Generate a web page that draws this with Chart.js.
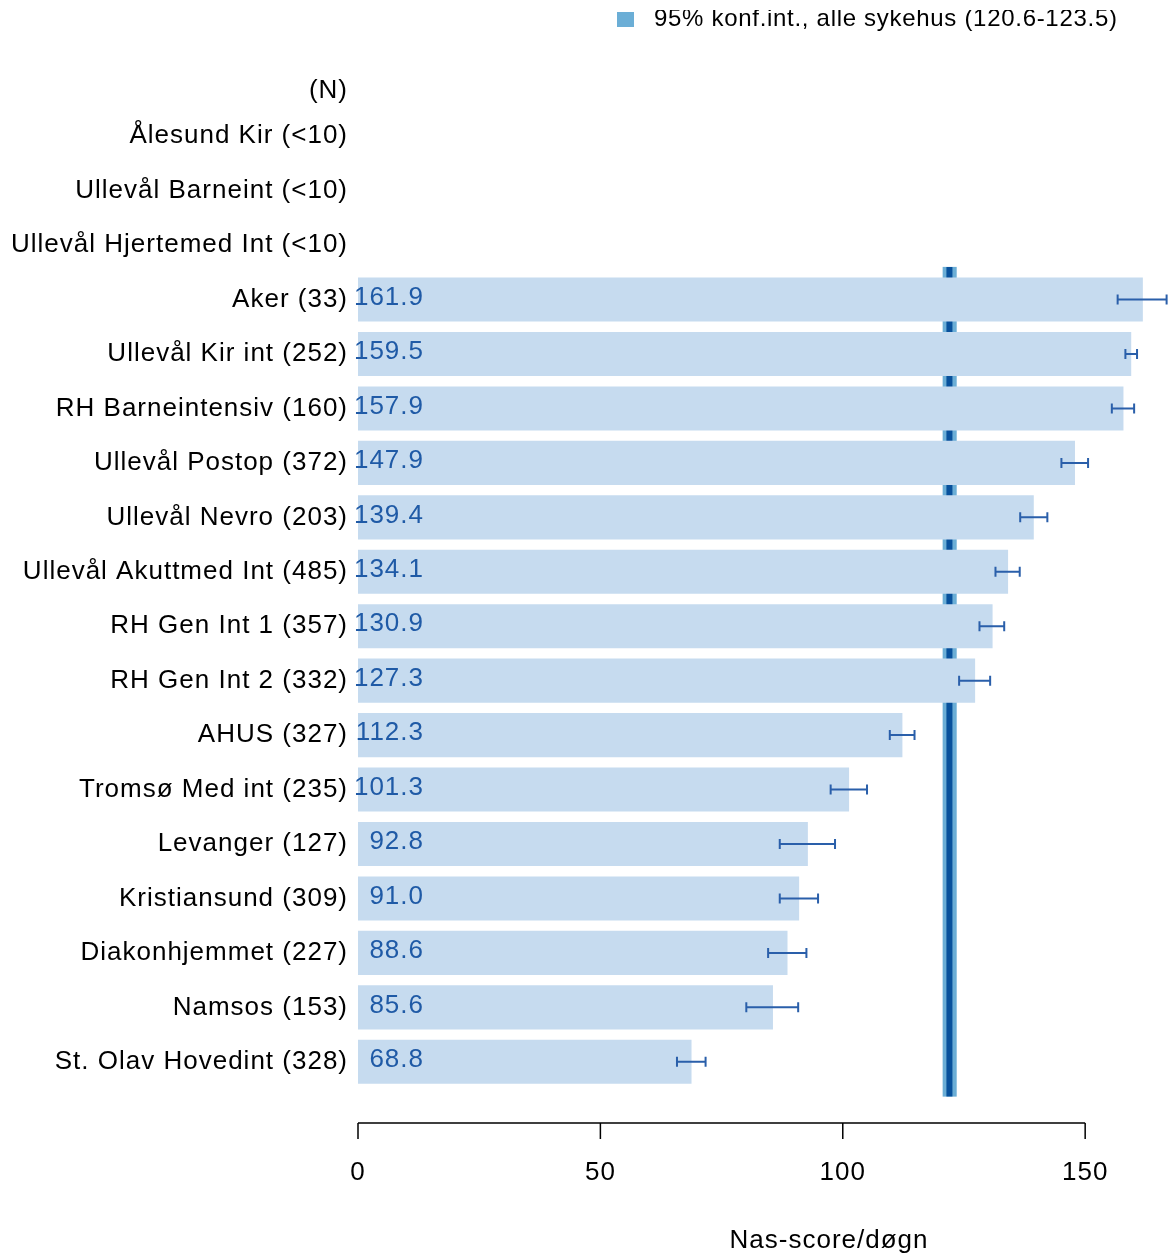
<!DOCTYPE html>
<html>
<head>
<meta charset="utf-8">
<script src="https://cdn.jsdelivr.net/npm/chart.js@4/dist/chart.umd.min.js"></script>
<style>
  html, body { margin: 0; padding: 0; background: #ffffff; }
  #wrap { width: 1173px; height: 1258px; }
</style>
</head>
<body>
<div id="wrap"><canvas id="nasChart" width="1173" height="1258"></canvas></div>
<script>
// hospital labels, top to bottom
var sykehus = ["Ålesund Kir (<10)", "Ullevål Barneint (<10)", "Ullevål Hjertemed Int (<10)",
  "Aker (33)", "Ullevål Kir int (252)", "RH Barneintensiv (160)", "Ullevål Postop (372)",
  "Ullevål Nevro (203)", "Ullevål Akuttmed Int (485)", "RH Gen Int 1 (357)", "RH Gen Int 2 (332)",
  "AHUS (327)", "Tromsø Med int (235)", "Levanger (127)", "Kristiansund (309)",
  "Diakonhjemmet (227)", "Namsos (153)", "St. Olav Hovedint (328)"];
var nasScore = [null, null, null, 161.9, 159.5, 157.9, 147.9, 139.4, 134.1, 130.9, 127.3,
  112.3, 101.3, 92.8, 91.0, 88.6, 85.6, 68.8];
var kiNedre = [null, null, null, 156.7, 158.3, 155.5, 145.1, 136.6, 131.5, 128.2, 124.0,
  109.7, 97.5, 87.0, 87.0, 84.6, 80.1, 65.8];
var kiOvre = [null, null, null, 166.8, 160.7, 160.1, 150.6, 142.2, 136.5, 133.3, 130.4,
  114.8, 105.0, 98.4, 94.9, 92.5, 90.8, 71.7];
var xTicks = [0, 50, 100, 150];

// national 95% CI and average
var alleNedre = 120.6;
var alleOvre = 123.5;
var alleSnitt = 122.0;
var legendTekst = "95% konf.int., alle sykehus (120.6-123.5)";
var xTittel = "Nas-score/døgn";
var nHeader = "(N)";

var fontFam = "'Liberation Sans', Arial, Helvetica, sans-serif";

// band + average line behind bars
var bandPlugin = {
  id: "band",
  beforeDraw: function (chart) { chart.ctx.letterSpacing = "1px"; },
  beforeDatasetsDraw: function (chart) {
    var ctx = chart.ctx, x = chart.scales.x, y = chart.scales.y;
    var top = y.getPixelForValue(2.4), bot = y.getPixelForValue(17.64);
    ctx.save();
    ctx.fillStyle = "#6BAED6";
    ctx.fillRect(x.getPixelForValue(alleNedre), top, x.getPixelForValue(alleOvre) - x.getPixelForValue(alleNedre), bot - top);
    ctx.strokeStyle = "#08519C";
    ctx.lineWidth = 6;
    ctx.beginPath();
    ctx.moveTo(x.getPixelForValue(alleSnitt), top);
    ctx.lineTo(x.getPixelForValue(alleSnitt), bot);
    ctx.stroke();
    ctx.restore();
  }
};

// error bars, value labels, axis, legend
var extrasPlugin = {
  id: "extras",
  afterDatasetsDraw: function (chart) {
    var ctx = chart.ctx, x = chart.scales.x, y = chart.scales.y, area = chart.chartArea;
    ctx.save();
    // confidence intervals
    ctx.strokeStyle = "#2A5FAA";
    ctx.lineWidth = 2;
    for (var i = 0; i < sykehus.length; i++) {
      if (nasScore[i] === null) continue;
      var yy = y.getPixelForValue(i);
      var x1 = x.getPixelForValue(kiNedre[i]), x2 = x.getPixelForValue(kiOvre[i]);
      ctx.beginPath();
      ctx.moveTo(x1, yy); ctx.lineTo(x2, yy);
      ctx.moveTo(x1, yy - 5); ctx.lineTo(x1, yy + 5);
      ctx.moveTo(x2, yy - 5); ctx.lineTo(x2, yy + 5);
      ctx.stroke();
    }
    // value labels
    ctx.letterSpacing = "1px";
    ctx.fillStyle = "#1F5AA6";
    ctx.font = "26px " + fontFam;
    ctx.textAlign = "right";
    ctx.textBaseline = "middle";
    for (var j = 0; j < sykehus.length; j++) {
      if (nasScore[j] === null) continue;
      ctx.fillText(nasScore[j].toFixed(1), area.left + 66, y.getPixelForValue(j) - 2);
    }
    // (N) header
    ctx.fillStyle = "#000000";
    ctx.fillText(nHeader, area.left - 10, y.getPixelForValue(0) - 45);
    // x axis, R style
    var ay = area.bottom + 34;
    ctx.strokeStyle = "#000000";
    ctx.lineWidth = 1.5;
    ctx.beginPath();
    ctx.moveTo(x.getPixelForValue(xTicks[0]), ay);
    ctx.lineTo(x.getPixelForValue(xTicks[xTicks.length - 1]), ay);
    xTicks.forEach(function (t) {
      ctx.moveTo(x.getPixelForValue(t), ay);
      ctx.lineTo(x.getPixelForValue(t), ay + 16);
    });
    ctx.stroke();
    ctx.textAlign = "center";
    xTicks.forEach(function (t) {
      ctx.fillText(String(t), x.getPixelForValue(t), ay + 50);
    });
    ctx.fillText(xTittel, 829, ay + 118);
    // legend (top edge cut off as in the source image)
    ctx.fillStyle = "#6BAED6";
    ctx.fillRect(617, 12, 17, 15);
    ctx.beginPath();
    ctx.rect(640, 10, 533, 40);
    ctx.clip();
    ctx.fillStyle = "#000000";
    ctx.textAlign = "left";
    ctx.letterSpacing = "0.7px";
    ctx.font = "24px " + fontFam;
    ctx.fillText(legendTekst, 654, 19);
    ctx.restore();
  },
  afterDraw: function (chart) { chart.ctx.letterSpacing = "0px"; }
};

var ctx = document.getElementById("nasChart").getContext("2d");
var nasChart = new Chart(ctx, {
  type: "bar",
  data: {
    labels: sykehus,
    datasets: [{
      data: nasScore,
      backgroundColor: "#C6DBEF",
      borderWidth: 0,
      barPercentage: 0.81,
      categoryPercentage: 1.0
    }]
  },
  options: {
    indexAxis: "y",
    responsive: false,
    animation: false,
    layout: { padding: { top: 109, bottom: 169, right: 3, left: 0 } },
    plugins: { legend: { display: false }, tooltip: { enabled: false } },
    scales: {
      x: {
        display: false,
        min: 0,
        max: 167.5
      },
      y: {
        afterFit: function (scale) { scale.width = 358; },
        grid: { display: false, drawTicks: false },
        border: { display: false },
        ticks: {
          color: "#000000",
          padding: 10,
          font: { size: 26, family: fontFam }
        }
      }
    }
  },
  plugins: [bandPlugin, extrasPlugin]
});
</script>
</body>
</html>
